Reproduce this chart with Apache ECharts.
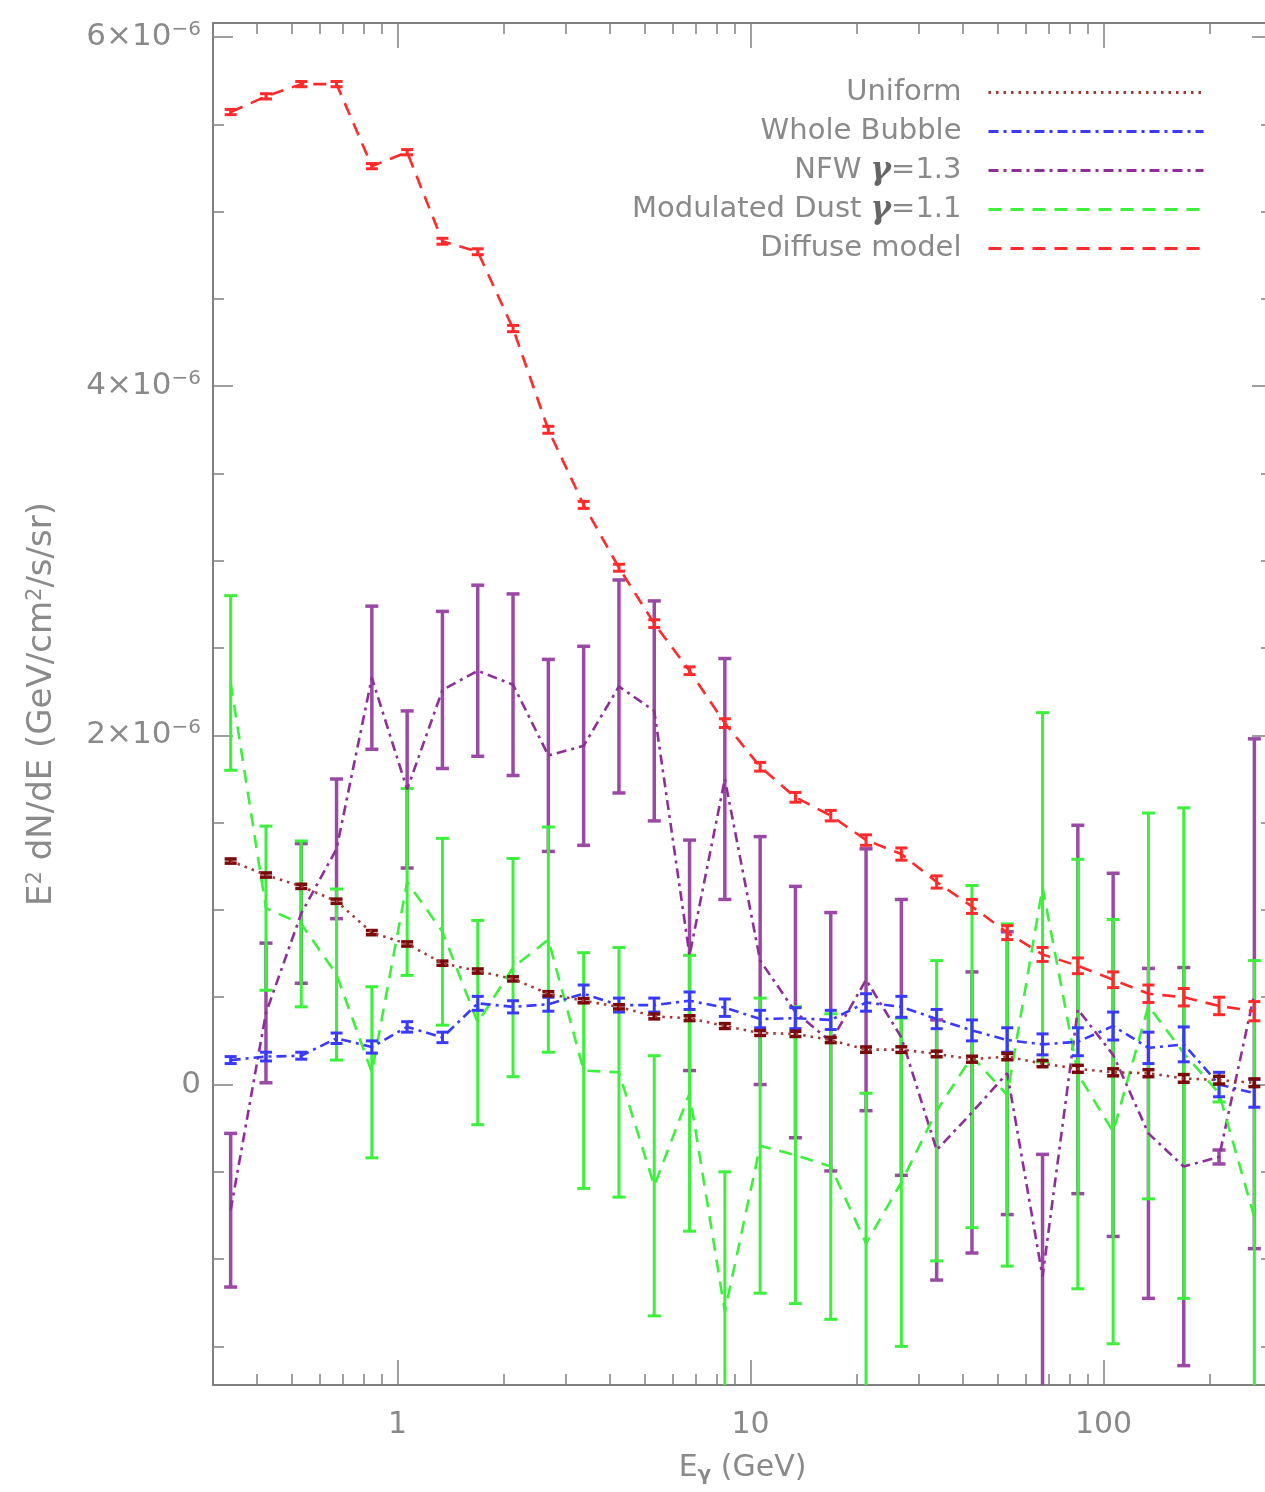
<!DOCTYPE html>
<html><head><meta charset="utf-8">
<script src="https://cdn.jsdelivr.net/npm/echarts@6/dist/echarts.min.js"></script>
<style>html,body{margin:0;padding:0;background:#fff;overflow:hidden}#c{width:1265px;height:1492px}</style>
</head><body><div id="c"></div><script>
// Energy bin centres (GeV)
const energies = [0.3366,0.4238,0.5335,0.6716,0.8455,1.0644,1.3400,1.6870,2.1238,2.6738,
  3.3661,4.2376,5.3348,6.7161,8.4551,10.644,13.400,16.870,21.238,26.738,
  33.661,42.376,53.348,67.161,84.551,106.44,134.00,168.70,212.38,267.38];
// Values in units of 1e-6 GeV/cm^2/s/sr
const diffuse = [5.57,5.66,5.73,5.73,5.26,5.34,4.83,4.77,4.33,3.75,3.32,2.96,2.64,2.37,2.07,1.82,1.645,1.54,1.40,1.32,1.16,1.02,0.87,0.745,0.68,0.60,0.52,0.50,0.45,0.42];
const diffuseErr = [0.015,0.015,0.015,0.015,0.015,0.015,0.017,0.017,0.018,0.02,0.02,0.02,0.022,0.022,0.025,0.025,0.028,0.03,0.03,0.035,0.035,0.04,0.04,0.04,0.045,0.045,0.05,0.05,0.05,0.055];
const uniform = [1.28,1.20,1.135,1.05,0.87,0.805,0.695,0.65,0.605,0.52,0.48,0.445,0.39,0.38,0.335,0.295,0.29,0.255,0.20,0.20,0.175,0.145,0.16,0.12,0.09,0.07,0.065,0.035,0.025,0.01];
const uniformErr = [0.012,0.012,0.012,0.012,0.012,0.012,0.012,0.012,0.012,0.012,0.012,0.012,0.014,0.014,0.014,0.014,0.015,0.015,0.015,0.016,0.016,0.017,0.018,0.018,0.02,0.02,0.02,0.022,0.022,0.022];
const bubble = [0.14,0.16,0.165,0.265,0.215,0.33,0.27,0.465,0.445,0.46,0.52,0.455,0.455,0.48,0.44,0.375,0.38,0.37,0.47,0.445,0.375,0.31,0.255,0.23,0.245,0.335,0.21,0.23,0.0,-0.05];
const bubbleErr = [0.02,0.025,0.02,0.03,0.035,0.03,0.03,0.04,0.035,0.04,0.05,0.04,0.04,0.05,0.05,0.05,0.06,0.055,0.05,0.06,0.055,0.06,0.07,0.06,0.08,0.08,0.09,0.10,0.07,0.08];
const nfw = [-0.72,0.41,0.98,1.35,2.33,1.69,2.26,2.37,2.29,1.885,1.94,2.28,2.14,0.74,1.75,0.71,0.415,0.245,0.60,0.27,-0.375,-0.16,0.065,-1.1,0.43,0.17,-0.28,-0.47,-0.415,0.52];
const nfwErr = [0.44,0.40,0.40,0.40,0.41,0.45,0.45,0.49,0.52,0.55,0.57,0.61,0.63,0.66,0.69,0.71,0.72,0.74,0.75,0.79,0.745,0.805,0.81,0.70,1.055,1.04,0.945,1.14,0.04,1.46];
const dust = [2.30,1.01,0.92,0.63,0.07,1.16,0.875,0.355,0.67,0.83,0.08,0.07,-0.58,-0.05,-1.30,-0.35,-0.405,-0.47,-0.91,-0.56,-0.15,0.16,-0.06,1.13,0.06,-0.27,0.45,0.18,-0.05,-0.76];
const dustErr = [0.50,0.47,0.475,0.49,0.49,0.535,0.535,0.585,0.625,0.645,0.675,0.715,0.745,0.79,0.80,0.845,0.85,0.875,0.86,0.94,0.86,0.98,0.98,1.0,1.23,1.215,1.105,1.405,0.05,1.47];

const seriesNames = ['Uniform','Whole Bubble','NFW γ=1.3','Modulated Dust γ=1.1','Diffuse model'];
const xMajor = [1,10,100];
const xMinor = [0.4,0.5,0.6,0.7,0.8,0.9,2,3,4,5,6,7,8,9,20,30,40,50,60,70,80,90,200,300];
const yMajor = [0,2,4,6];
const yMinor = [-1.5,-1,-0.5,0.5,1,1.5,2.5,3,3.5,4.5,5,5.5];
const yMin = -1.721, yMax = 6.08;

const FONT = 'DejaVu Sans';
const GRAY = '#8a8a8a';
const AX = '#808080';

function pairs(v, e) { return energies.map((x, i) => [x, v[i], e[i]]); }
function line(v) { return energies.map((x, i) => [x, v[i]]); }

function errSeries(name, v, e, color, w, cap, z) {
  return {
    type: 'custom', name: name + ' err', data: pairs(v, e), z: z, silent: true,
    renderItem: function (params, api) {
      const x = api.value(0), y = api.value(1), er = api.value(2);
      const p1 = api.coord([x, y + er]), p2 = api.coord([x, y - er]);
      const cs = params.coordSys;
      const top = Math.max(p1[1], cs.y), bot = Math.min(p2[1], cs.y + cs.height);
      if (top > bot) return null;
      const st = { stroke: color, lineWidth: w, fill: null };
      const ch = [{ type: 'line', shape: { x1: p1[0], y1: top, x2: p1[0], y2: bot }, style: st }];
      if (p1[1] >= cs.y) ch.push({ type: 'line', shape: { x1: p1[0] - cap, y1: p1[1], x2: p1[0] + cap, y2: p1[1] }, style: st });
      if (p2[1] <= cs.y + cs.height) ch.push({ type: 'line', shape: { x1: p2[0] - cap, y1: p2[1], x2: p2[0] + cap, y2: p2[1] }, style: st });
      return { type: 'group', children: ch };
    }
  };
}
function lineSeries(name, v, color, dash, w, z) {
  return { type: 'line', name: name, data: line(v), symbol: 'none', showSymbol: false, z: z,
    lineStyle: { color: color, width: w, type: dash }, itemStyle: { color: color } };
}

const C = { uni: '#a03a36', uniE: '#7a0a0a', blue: '#3a3aff', purple: '#8e2f98', purpleE: '#9a4aa4', green: '#3cf03c', red: '#ff2b2b' };

function xAxisDef(pos, ticks, len, labels) {
  return {
    type: 'log', logBase: 10, min: 0.3, max: 300, position: pos, gridIndex: 0,
    axisLine: { show: true, onZero: false, lineStyle: { color: AX, width: 2 } },
    axisTick: { show: true, inside: true, length: len, customValues: ticks, lineStyle: { color: AX, width: 1.5 } },
    axisLabel: labels ? { show: true, customValues: xMajor, formatter: v => String(v), fontFamily: FONT, fontSize: 30, color: GRAY, margin: 25 } : { show: false },
    splitLine: { show: false }, minorTick: { show: false }
  };
}
function yAxisDef(pos, ticks, len, labels) {
  return {
    type: 'value', min: yMin, max: yMax, position: pos, gridIndex: 0,
    axisLine: { show: true, onZero: false, lineStyle: { color: AX, width: 2 } },
    axisTick: { show: true, inside: true, length: len, customValues: ticks, lineStyle: { color: AX, width: 1.5 } },
    axisLabel: labels ? {
      show: true, customValues: yMajor, margin: 12,
      formatter: v => v === 0 ? '{m|0}' : '{m|' + v + '×10}{s|−6}',
      rich: { m: { fontFamily: FONT, fontSize: 31, color: GRAY }, s: { fontFamily: FONT, fontSize: 20, color: GRAY, verticalAlign: 'top', padding: [0, 0, 15, 0] } }
    } : { show: false },
    splitLine: { show: false }
  };
}

const xAxes = [xAxisDef('bottom', xMinor, 11, false), xAxisDef('bottom', xMajor, 25, true), xAxisDef('top', xMinor, 11, false), xAxisDef('top', xMajor, 25, false)];
Object.assign(xAxes[1], {
  name: '{e|E}{g|γ}{e| (GeV)}', nameLocation: 'middle', nameGap: 66,
  nameTextStyle: { rich: { e: { fontFamily: FONT, fontSize: 30, color: GRAY }, g: { fontFamily: FONT, fontSize: 20, fontWeight: 'bold', color: GRAY, verticalAlign: 'bottom', padding: [14, 0, 0, 0] } } }
});
const yAxes = [yAxisDef('left', yMinor, 11, false), yAxisDef('left', yMajor, 20, true), yAxisDef('right', yMinor, 11, false), yAxisDef('right', yMajor, 20, false)];
Object.assign(yAxes[1], {
  name: 'E{s|2} dN/dE (GeV/cm{s|2}/s/sr)', nameLocation: 'middle', nameGap: 153, nameRotate: 90,
  nameTextStyle: { rich: { s: { fontFamily: FONT, fontSize: 21, color: GRAY, verticalAlign: 'top', padding: [0, 0, 14, 0] } }, fontFamily: FONT, fontSize: 34, color: GRAY }
});

const option = {
  animation: false,
  backgroundColor: '#fff',
  grid: { left: 213, top: 23, width: 1059, height: 1362, containLabel: false, outerBoundsMode: 'none' },
  xAxis: xAxes,
  yAxis: yAxes,
  legend: {
    data: seriesNames, orient: 'vertical', right: 55, top: 72, align: 'right',
    itemWidth: 215, itemHeight: 14, itemGap: 8,
    itemStyle: { opacity: 0 },
    lineStyle: { width: 3 },
    textStyle: { fontFamily: FONT, fontSize: 29, color: GRAY, lineHeight: 31, padding: [0, 22, 0, 0],
      rich: { g: { fontFamily: 'DejaVu Serif', fontStyle: 'italic', fontWeight: 'bold', fontSize: 31, color: '#666', lineHeight: 31 } } },
    formatter: name => name.replace('γ', '{g|γ}'),
    selectedMode: false
  },
  series: [
    errSeries('NFW', nfw, nfwErr, C.purpleE, 3.5, 6.5, 2),
    errSeries('Dust', dust, dustErr, C.green, 3, 6.5, 3),
    lineSeries(seriesNames[2], nfw, C.purple, [10, 5, 3, 5], 2.6, 4),
    lineSeries(seriesNames[3], dust, C.green, [13, 9], 2.6, 4),
    errSeries('Bubble', bubble, bubbleErr, C.blue, 3, 6, 5),
    lineSeries(seriesNames[1], bubble, C.blue, [10, 5, 3, 5], 2.6, 5),
    errSeries('Uniform', uniform, uniformErr, C.uniE, 3.5, 6, 6),
    lineSeries(seriesNames[0], uniform, C.uni, [2.5, 5], 2.6, 6),
    errSeries('Diffuse', diffuse, diffuseErr, C.red, 3, 6, 7),
    lineSeries(seriesNames[4], diffuse, C.red, [13, 9], 2.6, 7)
  ]
};
const chart = echarts.init(document.getElementById('c'), null, { renderer: 'canvas' });
chart.setOption(option);
</script></body></html>
